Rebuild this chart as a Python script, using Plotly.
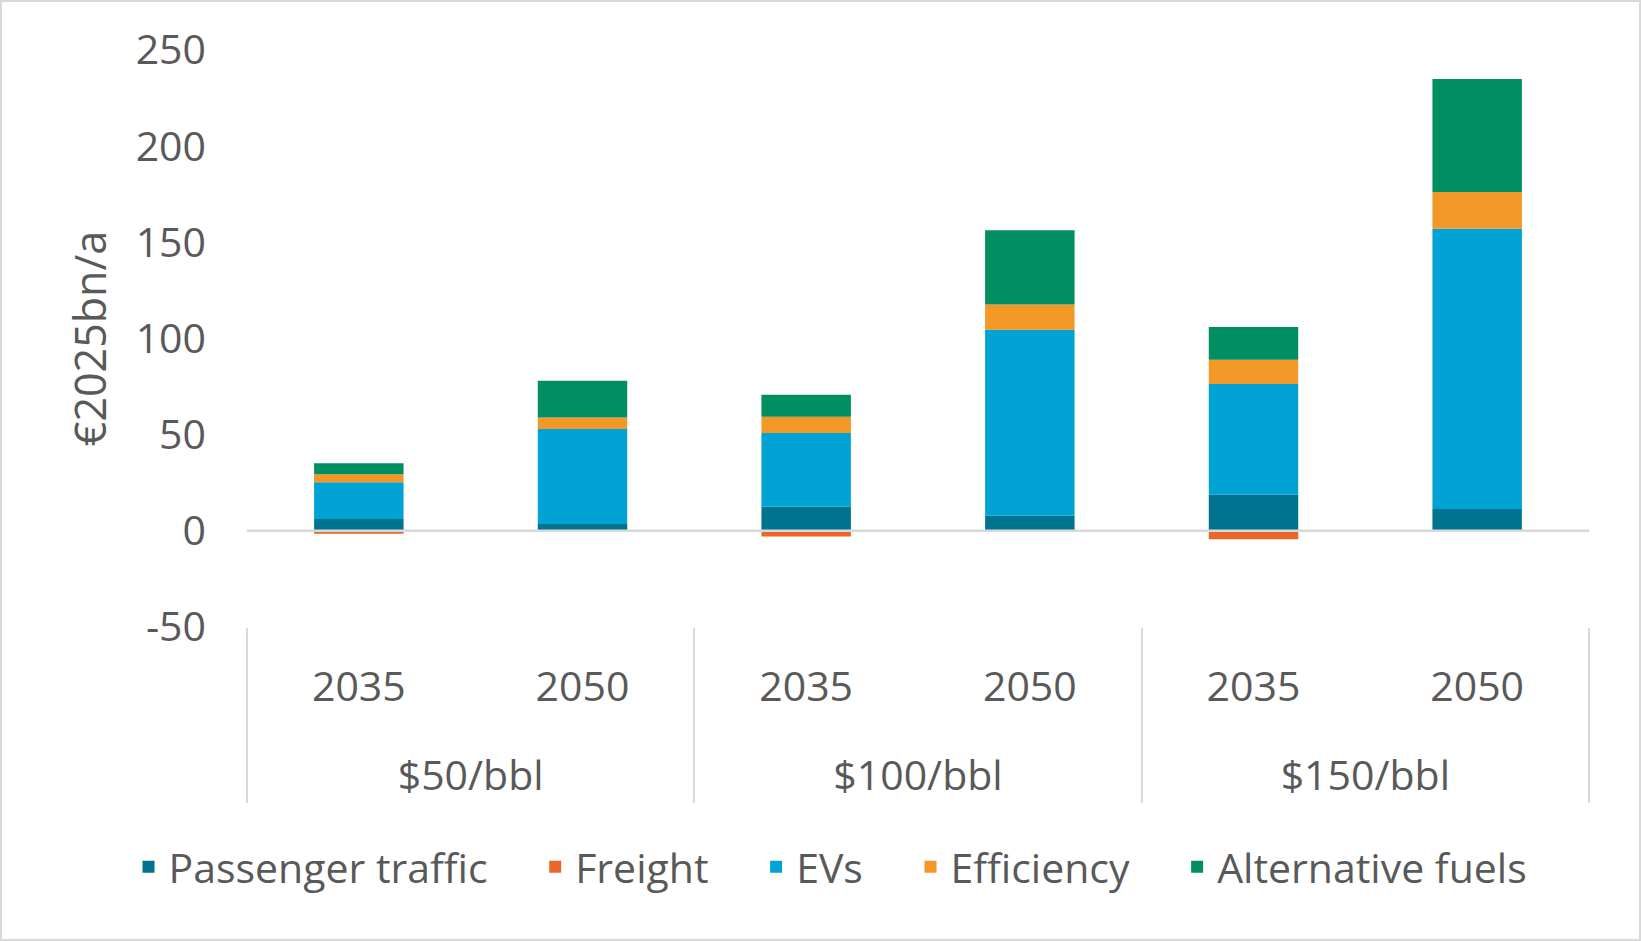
import plotly.graph_objects as go

# ---- data ----
prices = ["$50/bbl", "$50/bbl", "$100/bbl", "$100/bbl", "$150/bbl", "$150/bbl"]
years = ["2035", "2050", "2035", "2050", "2035", "2050"]

passenger_traffic = [6.2, 3.5, 12.5, 7.8, 18.7, 11.4]
freight = [-1.5, 0.0, -3.0, 0.0, -4.4, 0.0]
evs = [19.0, 49.5, 38.4, 96.8, 57.7, 145.6]
efficiency = [4.2, 5.9, 8.4, 13.1, 12.5, 19.2]
alternative_fuels = [5.7, 19.1, 11.4, 38.6, 17.1, 58.7]

y_tick_values = [-50, 0, 50, 100, 150, 200, 250]
y_tick_labels = ["-50", "0", "50", "100", "150", "200", "250"]

series_names = ["Passenger traffic", "Freight", "EVs", "Efficiency", "Alternative fuels"]
series_values = [passenger_traffic, freight, evs, efficiency, alternative_fuels]
series_colors = ["#00748F", "#EA6729", "#00A3D3", "#F39727", "#028E63"]

W, H = 1641, 941
L, R, T, B = 247, 52, 50, 314
FONT = "Open Sans"
TXT = "#595959"

# inner labels get an invisible second line to widen the gap to the outer row
year_labels = [y + "<br><span style='font-size:74px'>\u00a0</span>" for y in years]

fig = go.Figure()
n = len(series_names)
for i, (name, vals, col) in enumerate(zip(series_names, series_values, series_colors)):
    pad = "\u00a0" * 4 if i < n - 1 else ""
    fig.add_trace(go.Bar(
        x=[prices, year_labels], y=vals, name=name + pad,
        marker=dict(color=col, line=dict(width=0)),
    ))

pw = W - L - R
ph = H - T - B
fig.update_layout(
    width=W, height=H,
    margin=dict(l=L, r=R, t=T, b=B, autoexpand=False),
    barmode="relative",
    bargap=0.6,
    plot_bgcolor="white",
    paper_bgcolor="white",
    font=dict(family=FONT, size=41, color=TXT),
    showlegend=True,
    legend=dict(
        orientation="h", xref="paper", yref="paper",
        x=(128.5 - L) / pw, xanchor="left",
        y=-(867 - (T + ph)) / ph, yanchor="middle",
        font=dict(size=41, color=TXT), traceorder="normal",
    ),
    xaxis=dict(
        type="multicategory", showline=False, showgrid=False, zeroline=False,
        showdividers=True, dividercolor="#D9D9D9", dividerwidth=2,
        tickfont=dict(size=41, color=TXT), ticks="", ticklabelstandoff=32,
    ),
    yaxis=dict(
        range=[-50, 250], tickvals=y_tick_values, ticktext=y_tick_labels,
        showgrid=False, zeroline=False,
        showline=False, ticks="", ticklabelstandoff=40,
        tickfont=dict(size=41, color=TXT),
        title=dict(text="€2025bn/a", font=dict(size=43, color=TXT), standoff=15),
    ),
    shapes=[
        dict(type="line", xref="paper", yref="y", x0=0, x1=1, y0=0, y1=0,
             line=dict(color="#D9D9D9", width=2.5), layer="above"),
        dict(type="rect", xref="paper", yref="paper",
             x0=(1 - L) / pw, x1=(W - L - 1) / pw,
             y0=-(H - T - ph - 1) / ph, y1=(ph + T - 1) / ph,
             line=dict(color="#D9D9D9", width=2), layer="below"),
    ],
)

fig.write_html("out.html")
